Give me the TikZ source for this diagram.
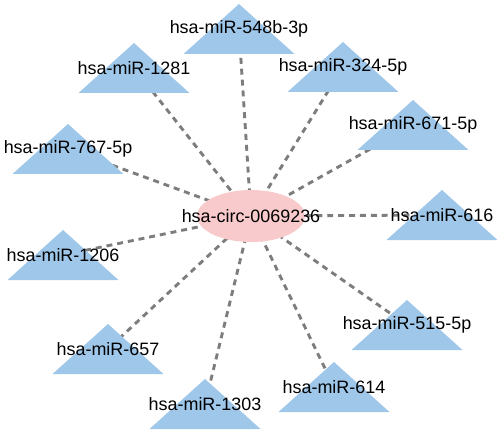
\documentclass[tikz,border=0pt]{standalone}
\usepackage{fontspec}
\setmainfont{Liberation Sans}
\usetikzlibrary{shapes.geometric,backgrounds}
\definecolor{mirblue}{RGB}{158,199,234}
\definecolor{circpink}{RGB}{248,202,204}
\definecolor{linkgray}{RGB}{125,125,125}

\begin{document}
\begin{tikzpicture}[x=0.02cm,y=-0.02cm,font=\fontsize{10.2pt}{12pt}\selectfont,
  mir/.style={rectangle,inner sep=0pt,minimum width=2.22cm,minimum height=1cm,
    path picture={\fill[mirblue] (path picture bounding box.south west) -- (path picture bounding box.north) -- (path picture bounding box.south east) -- cycle;},
    label={center:#1}},
  circ/.style={ellipse,fill=circpink,inner sep=0pt,minimum width=2.16cm,minimum height=1.04cm,label={center:#1}},
  link/.style={linkgray,line width=1.65pt,dash pattern=on 3.4pt off 2.8pt}]

\useasboundingbox (0,0) rectangle (500,433);

%%% The circRNA in the middle
\node[circ={hsa-circ-0069236}] (circ) at (251,216) {};

%%% Upper half of the miRNAs
\node[mir={hsa-miR-548b-3p}] (mir548b) at (239,29) {};
\node[mir={hsa-miR-1281}] (mir1281) at (134,68) {};
\node[mir={hsa-miR-324-5p}] (mir324) at (343,67) {};
\node[mir={hsa-miR-671-5p}] (mir671) at (413,125) {};
\node[mir={hsa-miR-767-5p}] (mir767) at (68,149) {};

%%% Lower half of the miRNAs
\node[mir={hsa-miR-1206}] (mir1206) at (63,255) {};
\node[mir={hsa-miR-616}] (mir616) at (442,215) {};
\node[mir={hsa-miR-657}] (mir657) at (108,349) {};
\node[mir={hsa-miR-1303}] (mir1303) at (205,404) {};
\node[mir={hsa-miR-614}] (mir614) at (334,387) {};
\node[mir={hsa-miR-515-5p}] (mir515) at (407,325) {};

%%% Dashed links, centre to centre, kept behind the nodes
\begin{scope}[on background layer]
\draw[link] (circ.center) -- (mir548b.center);
\draw[link] (circ.center) -- (mir1281.center);
\draw[link] (circ.center) -- (mir324.center);
\draw[link] (circ.center) -- (mir671.center);
\draw[link] (circ.center) -- (mir767.center);
\draw[link] (circ.center) -- (mir1206.center);
\draw[link] (circ.center) -- (mir616.center);
\draw[link] (circ.center) -- (mir657.center);
\draw[link] (circ.center) -- (mir1303.center);
\draw[link] (circ.center) -- (mir614.center);
\draw[link] (circ.center) -- (mir515.center);
\end{scope}
\end{tikzpicture}
\end{document}
